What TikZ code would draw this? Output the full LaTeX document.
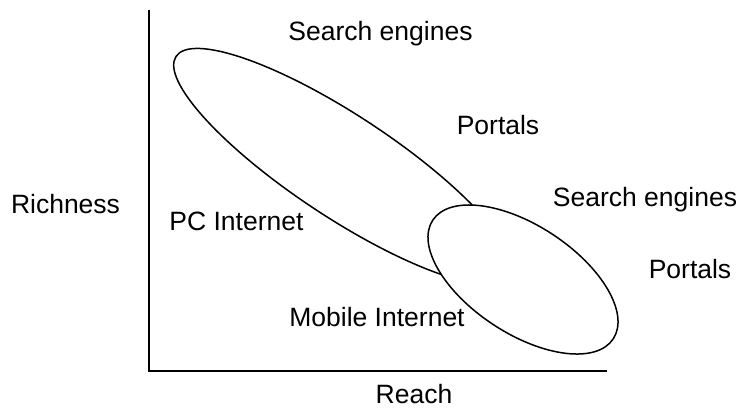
\documentclass[tikz,border=0pt]{standalone}
\usepackage{fontspec}
\setmainfont{Liberation Sans}
\usetikzlibrary{shapes.geometric}
\begin{document}
\begin{tikzpicture}[x=1pt,y=-1pt,
  lbl/.style={font=\fontsize{26.5}{30}\selectfont, inner sep=0pt, anchor=base},
  axisline/.style={line width=2pt},
  region/.style={draw, ellipse, line width=1.5pt, inner sep=0pt, outer sep=0pt}]
\useasboundingbox (0,0) rectangle (738,408);

% axes
\coordinate (ytop) at (149,10);
\coordinate (orig) at (149,370.5);
\coordinate (xend) at (607,370.5);
\draw[axisline] (ytop) -- (orig) -- (xend);

% the two regions; the mobile one covers the end of the PC one
\node[region, minimum width=400pt, minimum height=102pt, rotate=-33.4] (pc) at (343,166.5) {};
\node[region, fill=white, minimum width=216pt, minimum height=108pt, rotate=-33.3] (mobile) at (523,279.5) {};

% labels
\node[lbl] (se1)   at (380.5,40.5) {Search engines};
\node[lbl] (po1)   at (498,134)    {Portals};
\node[lbl] (se2)   at (645,206)    {Search engines};
\node[lbl] (po2)   at (690,278)    {Portals};
\node[lbl] (rich)  at (65.5,213)   {Richness};
\node[lbl] (pcl)   at (236.5,230)  {PC Internet};
\node[lbl] (mobl)  at (377,326.5)  {Mobile Internet};
\node[lbl] (reach) at (414,403.5)  {Reach};
\end{tikzpicture}
\end{document}
